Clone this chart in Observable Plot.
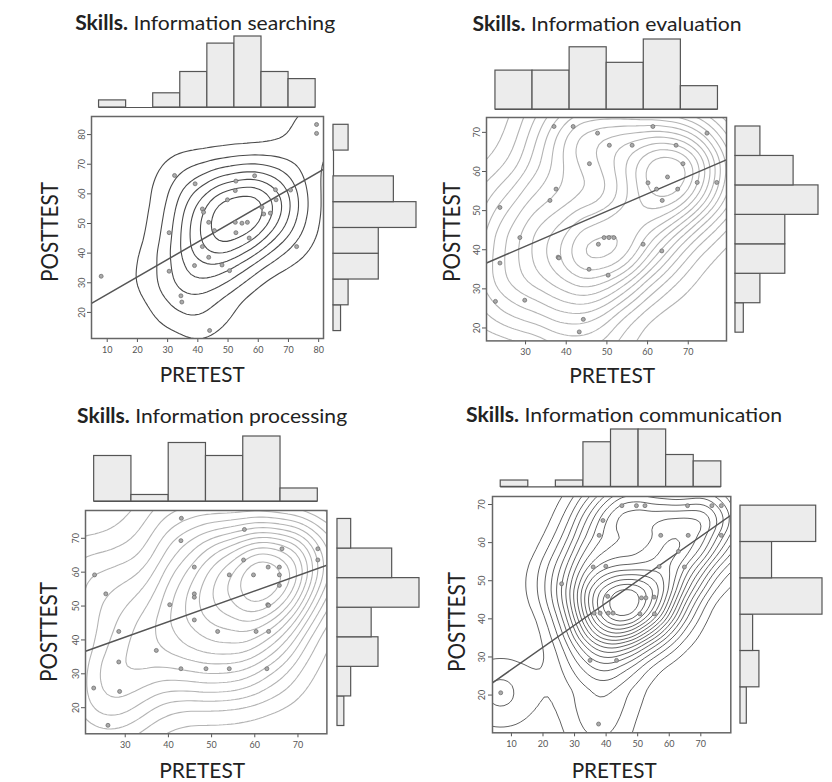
<!DOCTYPE html>
<html><head><meta charset="utf-8">
<script src="https://cdn.jsdelivr.net/npm/d3@7"></script>
<script src="https://cdn.jsdelivr.net/npm/@observablehq/plot@0.6"></script>
<style>
body{margin:0;background:#fff;}
#root{position:relative;width:832px;height:782px;overflow:hidden;font-family:Lato,"Open Sans",sans-serif;color:#222;}
#root svg{position:absolute;overflow:visible;}
.txt{position:absolute;white-space:nowrap;line-height:1;}
</style></head><body><div id="root"></div><script>
// ---------- data: pretest / posttest scores ----------
const searchPre  = [8.0,32.3,39.1,30.5,30.5,34.4,34.7,43.9,41.5,41.9,43.6,45.5,41.5,43.6,38.9,48.0,50.5,49.8,52.4,52.6,58.8,52.4,54.6,56.4,52.6,57.0,61.2,61.8,64.0,65.7,65.9,70.7,72.7,79.3,79.3];
const searchPost = [32.2,66.2,63.4,46.9,33.9,25.6,23.5,13.9,54.9,53.8,50.4,47.6,42.2,38.6,35.8,36.0,34.1,58.0,61.1,64.3,66.1,50.4,50.1,50.4,46.9,45.1,55.5,53.2,53.5,61.4,58.0,61.3,42.2,83.4,80.4];

const evalPre  = [37.0,41.7,47.7,50.6,56.2,61.3,67.0,74.6,45.7,68.7,64.9,60.1,62.2,67.4,72.2,77.0,63.6,37.5,36.0,23.7,28.6,49.3,50.5,51.7,47.9,58.9,63.5,38.0,38.2,23.7,45.6,50.3,22.6,29.8,44.2,43.2];
const evalPost = [71.5,71.5,69.8,66.7,66.7,71.5,66.7,69.8,62.0,62.0,58.6,57.1,55.5,55.5,57.2,57.2,52.6,55.5,52.6,50.8,43.1,43.1,43.1,43.1,41.4,41.4,39.7,38.1,37.9,36.6,35.0,33.5,26.8,27.1,22.2,19.0];

const procPre  = [43.0,57.6,42.9,66.3,74.6,74.6,57.4,46.0,54.1,59.7,63.1,65.7,65.7,65.7,22.9,25.5,46.0,46.0,40.3,63.0,63.2,46.0,28.5,51.4,60.3,63.2,37.2,28.5,42.9,48.7,54.1,62.8,22.7,28.7,26.0];
const procPost = [75.9,72.6,69.3,66.9,66.9,63.6,63.6,61.5,59.2,59.2,61.5,61.5,59.2,56.1,59.2,53.6,53.6,52.6,50.4,50.4,50.2,45.9,42.5,42.5,42.5,42.5,36.9,33.5,31.5,31.5,31.5,31.5,25.8,24.8,14.8];

const commPre  = [45.0,49.6,52.3,65.8,73.5,76.5,39.0,37.8,57.3,66.0,76.5,62.9,35.9,39.9,56.8,64.8,25.9,40.5,51.2,52.6,55.2,36.2,38.1,40.7,42.2,50.7,55.3,34.9,43.3,6.6,37.6];
const commPost = [69.7,69.7,69.7,69.7,69.7,69.7,65.8,61.9,61.9,61.9,61.9,57.7,53.6,53.8,53.7,53.6,49.2,45.9,45.5,45.5,45.7,41.5,41.5,41.5,41.5,41.3,41.3,29.1,29.1,20.6,12.4];

// marginal histogram counts (low -> high) and their break ranges
const searchPreHist  = [1,0,2,5,9,10,5,4];   const searchPreRange  = [7.3, 79.0];
const searchPostHist = [1,2,6,6,11,8,0,2];   const searchPostRange = [13.7, 83.3];
const evalPreHist    = [5,5,8,6,9,3];        const evalPreRange    = [22.6, 77.3];
const evalPostHist   = [1,3,6,6,10,7,3];     const evalPostRange   = [18.8, 71.5];
const procPreHist    = [7,1,9,7,10,2];       const procPreRange    = [22.8, 74.6];
const procPostHist   = [1,2,6,5,12,8,2];     const procPostRange   = [14.6, 75.7];
const commPreHist    = [1,0,1,7,9,9,5,4];    const commPreRange    = [6.6, 76.5];
const commPostHist   = [1,3,2,13,5,12];      const commPostRange   = [12.5, 69.7];

// regression lines [intercept, slope]
const searchFit = [20.2, 0.589];
const evalFit   = [27.5, 0.447];
const procFit   = [27.2, 0.454];
const commFit   = [20.9, 0.582];

// tick labels
const searchXTicks = [10,20,30,40,50,60,70,80]; const searchYTicks = [20,30,40,50,60,70,80];
const evalXTicks   = [30,40,50,60,70];          const evalYTicks   = [20,30,40,50,60,70];
const procXTicks   = [30,40,50,60,70];          const procYTicks   = [20,30,40,50,60,70];
const commXTicks   = [10,20,30,40,50,60,70];    const commYTicks   = [20,30,40,50,60,70];

const titles = ["Information searching","Information evaluation","Information processing","Information communication"];
const xLabel = "PRETEST", yLabel = "POSTTEST", skillsWord = "Skills.";

// ---------- layout (pixels) ----------
const panels = [
  {pre:searchPre, post:searchPost, preHist:searchPreHist, preRange:searchPreRange, postHist:searchPostHist, postRange:searchPostRange, fit:searchFit, xTicks:searchXTicks, yTicks:searchYTicks, title:titles[0],
   L:{frame:[91,116,323,338], xDom:[4.8,81.6], yDom:[11.2,86.1], topBase:107, topTop:36, rightX0:333, rightX1:416,
      title:[205,15,260], ylab:[49,232,100], xlab:[202,367,85]},
   S:{contour:"#4a4a4a", cw:1.1, thresholds:8, bandwidth:24}},
  {pre:evalPre, post:evalPost, preHist:evalPreHist, preRange:evalPreRange, postHist:evalPostHist, postRange:evalPostRange, fit:evalFit, xTicks:evalXTicks, yTicks:evalYTicks, title:titles[1],
   L:{frame:[486,117.3,726,340.7], xDom:[20.4,79.4], yDom:[16.7,73.8], topBase:109, topTop:39, rightX0:735, rightX1:818,
      title:[607,16,269], ylab:[451,232,100], xlab:[612,368,86]},
   S:{contour:"#b4b4b4", cw:1.1, thresholds:14, bandwidth:30}},
  {pre:procPre, post:procPost, preHist:procPreHist, preRange:procPreRange, postHist:procPostHist, postRange:procPostRange, fit:procFit, xTicks:procXTicks, yTicks:procYTicks, title:titles[2],
   L:{frame:[85.3,510,326.7,733.3], xDom:[20.8,76.7], yDom:[12.3,78.2], topBase:500.7, topTop:435.7, rightX0:337, rightX1:419,
      title:[212,408,270], ylab:[48,632,100], xlab:[202,763,86]},
   S:{contour:"#b4b4b4", cw:1.1, thresholds:14, bandwidth:30}},
  {pre:commPre, post:commPost, preHist:commPreHist, preRange:commPreRange, postHist:commPostHist, postRange:commPostRange, fit:commFit, xTicks:commXTicks, yTicks:commYTicks, title:titles[3],
   L:{frame:[491.7,496,730,732.3], xDom:[4.0,79.5], yDom:[10.1,72.1], topBase:486.7, topTop:429.3, rightX0:740, rightX1:822,
      title:[624,407,316], ylab:[456,622,100], xlab:[614,763,85]},
   S:{contour:"#505050", cw:0.9, thresholds:18, bandwidth:24}}
];

const root = document.getElementById("root");
function place(svg, left, top) { svg.style.left = left + "px"; svg.style.top = top + "px"; root.appendChild(svg); }

function bins(counts, range) {
  const [lo, hi] = range, step = (hi - lo) / counts.length;
  return counts.map((c, i) => ({a: lo + i * step, b: lo + (i + 1) * step, zero: 0, c}));
}

const axisStyle = {fontFamily:"Lato, sans-serif", fontSize:"9px", color:"#555", background:"transparent"};
const mL = 32, mR = 2, mT = 2, mB = 32;

function text(content, opts) {
  const d = document.createElement("div");
  d.className = "txt";
  d.innerHTML = content;
  d.style.fontSize = opts.fs + "px";
  root.appendChild(d);
  const w = d.getBoundingClientRect().width;
  const k = opts.width / w;
  if (opts.rotate) {
    d.style.left = opts.cx + "px"; d.style.top = opts.cy + "px";
    d.style.transform = `translate(-50%,-50%) rotate(-90deg) scaleX(${k})`;
  } else {
    d.style.left = (opts.cx - w / 2) + "px";
    d.style.top = (opts.capTop - 0.17 * opts.fs) + "px";
    d.style.transformOrigin = "50% 50%";
    d.style.transform = `scaleX(${k})`;
  }
}

for (const p of panels) {
  const L = p.L, S = p.S;
  const [fx0, fy0, fx1, fy1] = L.frame;
  const W = fx1 - fx0 + mL + mR, H = fy1 - fy0 + mT + mB;
  const pts = p.pre.map((x, i) => ({x, y: p.post[i]}));
  const [a, b] = p.fit;
  const fitLine = L.xDom.map(x => ({x, y: a + b * x}));

  const main = Plot.plot({
    width: W, height: H, marginLeft: mL, marginRight: mR, marginTop: mT, marginBottom: mB,
    style: axisStyle,
    x: {domain: L.xDom, ticks: p.xTicks, tickSize: 4, tickPadding: 4, label: null},
    y: {domain: L.yDom, ticks: p.yTicks, tickSize: 4, tickPadding: 3, tickRotate: -90, label: null},
    marks: [
      Plot.density(pts, {x: "x", y: "y", stroke: S.contour, strokeWidth: S.cw, bandwidth: S.bandwidth, thresholds: S.thresholds, clip: true}),
      Plot.line(fitLine, {x: "x", y: "y", stroke: "#555", strokeWidth: 1.5, clip: true}),
      Plot.dot(pts, {x: "x", y: "y", r: 2, fill: "#aaa", stroke: "#666", strokeWidth: 0.7}),
      Plot.frame({stroke: "#666", strokeWidth: 1.5})
    ]
  });
  place(main, fx0 - mL, fy0 - mT);

  // top histogram (PRETEST)
  const tb = bins(p.preHist, p.preRange);
  const top = Plot.plot({
    width: W, height: L.topBase - L.topTop + 4, marginLeft: mL, marginRight: mR, marginTop: 2, marginBottom: 2,
    style: axisStyle,
    x: {domain: L.xDom, axis: null}, y: {domain: [0, d3.max(p.preHist)], axis: null},
    marks: [
      Plot.ruleY([{y: 0, x1: p.preRange[0], x2: p.preRange[1]}], {y: "y", x1: "x1", x2: "x2", stroke: "#555", strokeWidth: 1.2}),
      Plot.rect(tb, {x1: "a", x2: "b", y1: "zero", y2: "c", fill: "#ececec", stroke: "#555", strokeWidth: 1.2})
    ]
  });
  place(top, fx0 - mL, L.topTop - 2);

  // right histogram (POSTTEST)
  const rb = bins(p.postHist, p.postRange);
  const right = Plot.plot({
    width: L.rightX1 - L.rightX0 + 4, height: H, marginLeft: 2, marginRight: 2, marginTop: mT, marginBottom: mB,
    style: axisStyle,
    x: {domain: [0, d3.max(p.postHist)], axis: null}, y: {domain: L.yDom, axis: null},
    marks: [
      Plot.ruleX([{x: 0, y1: p.postRange[0], y2: p.postRange[1]}], {x: "x", y1: "y1", y2: "y2", stroke: "#555", strokeWidth: 1.2}),
      Plot.rect(rb, {y1: "a", y2: "b", x1: "zero", x2: "c", fill: "#ececec", stroke: "#555", strokeWidth: 1.2})
    ]
  });
  place(right, L.rightX0 - 2, fy0 - mT);

  text(`<b>${skillsWord}</b> ${p.title}`, {cx: L.title[0], capTop: L.title[1], width: L.title[2], fs: 20});
  text(yLabel, {cx: L.ylab[0], cy: L.ylab[1], width: L.ylab[2], fs: 23, rotate: true});
  text(xLabel, {cx: L.xlab[0], capTop: L.xlab[1], width: L.xlab[2], fs: 22});
}
</script></body></html>
